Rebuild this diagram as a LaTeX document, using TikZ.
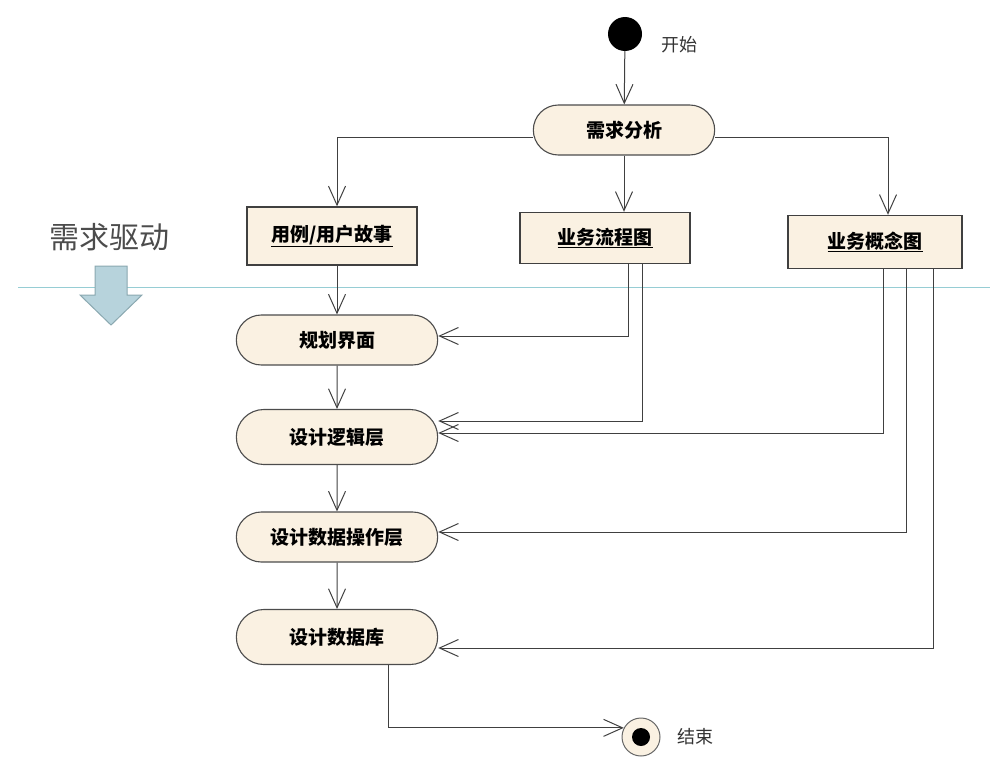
\documentclass[tikz,border=0pt]{standalone}
\usepackage{fontspec}
\setmainfont{Noto Sans CJK SC}
\usetikzlibrary{shapes.misc,arrows.meta}

\definecolor{actfill}{RGB}{250,241,226}
\definecolor{guide}{RGB}{150,205,212}
\definecolor{blockfill}{RGB}{183,211,220}
\definecolor{blockline}{RGB}{138,168,176}

\begin{document}
\begin{tikzpicture}[x=1pt,y=-1pt,
  action/.style={rounded rectangle, draw=black!70, line width=1.1pt, fill=actfill,
    minimum width=208pt, minimum height=52pt, font=\fontsize{19}{21}\selectfont\bfseries},
  artifact/.style={rectangle, draw=black!75, line width=1.4pt, fill=actfill,
    minimum width=170pt, minimum height=52pt, font=\fontsize{19}{21}\selectfont\bfseries},
  flow/.style={draw=black!75, line width=1pt, -{Straight Barb[length=19pt,width=17pt]}},
  plain/.style={font=\fontsize{18}{20}\selectfont, text=black!80}
]
\useasboundingbox (0,0) rectangle (1008,760);

% Guide line and block arrow
\draw[guide, line width=1pt] (18,287) -- (990,287);
\filldraw[fill=blockfill, draw=blockline, line width=1pt]
  (95,266) -- (127,266) -- (127,295) -- (142,295) -- (111,325) -- (80,295) -- (95,295) -- cycle;
\node[font=\fontsize{30}{32}\selectfont, text=black!70] (drive) at (109,237) {需求驱动};

% Start
\node[circle, fill=black, minimum size=34pt, inner sep=0pt] (start) at (625,34) {};
\node[plain] (startlbl) at (679,45) {开始};

% Actions and artifacts
\node[action, minimum width=188pt, minimum height=50pt] (req) at (624,130) {需求分析};
\node[artifact, minimum height=58pt] (case) at (332,236) {\underline{用例/用户故事}};
\node[artifact, minimum height=51pt] (flowbox) at (605,238) {\underline{业务流程图}};
\node[artifact, minimum width=174pt, minimum height=53pt] (concept) at (875,242) {\underline{业务概念图}};
\node[action, minimum height=50pt] (plan) at (337,340) {规划界面};
\node[action, minimum height=55pt] (logic) at (337,437) {设计逻辑层};
\node[action, minimum height=50pt] (ops) at (337,537) {设计数据操作层};
\node[action, minimum height=55pt] (db) at (337,637) {设计数据库};

% End
\node[circle, draw=black!60, line width=1pt, fill=actfill, minimum size=38pt, inner sep=0pt] (end) at (641,737) {};
\fill (end) circle (9pt);
\node[plain] (endlbl) at (695,737) {结束};

% Flows from requirements analysis
\draw[flow] (start) -- (req);
\draw[flow] ([yshift=-7pt]req.west) -| ([xshift=5pt]case.north);
\draw[flow] (req.south) -- (req.south |- flowbox.north);
\draw[flow] ([yshift=-7pt]req.east) -| ([xshift=13pt]concept.north);

% Main column
\draw[flow] (case.south -| plan.north) -- (plan.north);
\draw[flow] (plan) -- (logic);
\draw[flow] (logic) -- (ops);
\draw[flow] (ops) -- (db);
\draw[flow] ([xshift=51pt]db.south) |- (end.152);

% Inputs from process diagram
\draw[flow] ([xshift=23pt]flowbox.south) |- ([yshift=4pt]plan.east);
\draw[flow] ([xshift=37pt]flowbox.south) |- ([yshift=16pt]logic.east);

% Inputs from concept diagram
\draw[flow] ([xshift=8pt]concept.south) |- ([yshift=4pt]logic.east);
\draw[flow] ([xshift=31pt]concept.south) |- ([yshift=5pt]ops.east);
\draw[flow] ([xshift=58pt]concept.south) |- ([yshift=-11pt]db.east);

\end{tikzpicture}
\end{document}
